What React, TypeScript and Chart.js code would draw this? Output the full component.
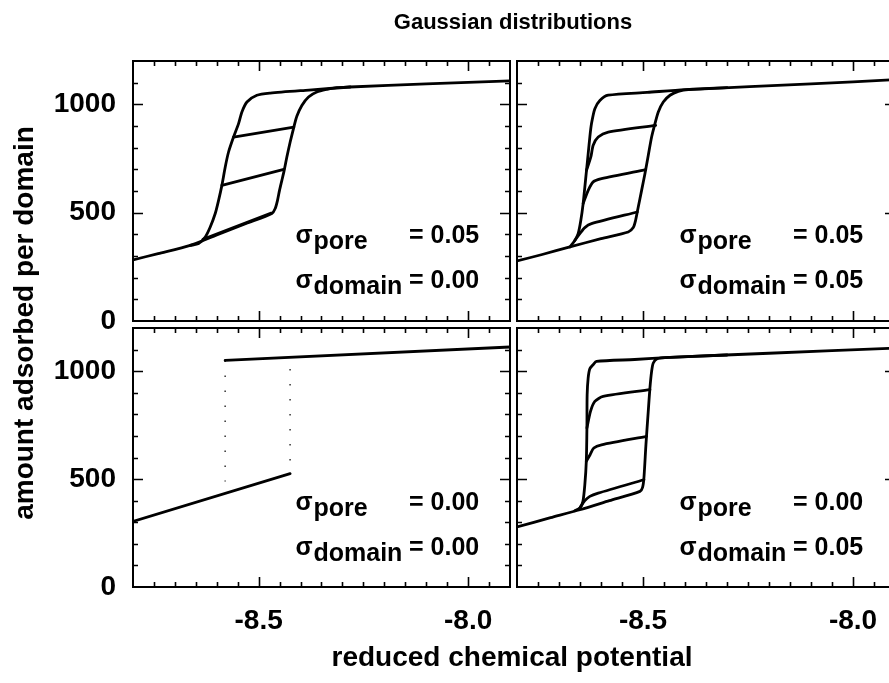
import { useEffect, useRef } from "react";
import { Chart, registerables } from "chart.js";

Chart.register(...registerables);

// ---- axes ----
const X_MIN = -8.8;
const X_MAX = -7.9;
const Y_MIN = 0;
const Y_MAX = 1200;
const X_TICK_LABELS = [-8.5, -8.0];
const Y_TICK_LABELS = [0, 500, 1000];
const X_MINOR_STEP = 0.05;
const Y_MINOR_STEP = 100;

// ---- panel texts ----
const SIGMA_PORE = ["0.05", "0.05", "0.00", "0.00"];
const SIGMA_DOMAIN = ["0.00", "0.05", "0.00", "0.05"];

// ---- panel A: sigma_pore 0.05, sigma_domain 0.00 ----
const aAdsX = [-8.8, -8.74, -8.6633, -8.6, -8.53, -8.4685, -8.4605, -8.455, -8.4502, -8.4446, -8.4391, -8.4327, -8.4248, -8.416, -8.4089, -8.3969, -8.381, -8.3612, -8.3373, -8.3134, -8.2816, -8.1, -7.9];
const aAdsY = [282, 311, 349, 397, 450, 496, 519, 557, 603, 649, 695, 757, 826, 895, 945, 995, 1034, 1057, 1069, 1077, 1080, 1094, 1108];
const aDesX = [-8.2816, -8.38, -8.4725, -8.5043, -8.528, -8.54, -8.548, -8.56, -8.5719, -8.5798, -8.5878, -8.5957, -8.6037, -8.6156, -8.6275, -8.6434, -8.6633];
const aDesY = [1080, 1066, 1052, 1042, 1011, 965, 911, 849, 780, 711, 626, 557, 496, 434, 388, 357, 349];
const aScan1X = [-8.56, -8.416];
const aScan1Y = [849, 895];
const aScan2X = [-8.5878, -8.44];
const aScan2Y = [626, 700];
const aScan3X = [-8.633, -8.47];
const aScan3Y = [377, 498];

// ---- panel B: sigma_pore 0.05, sigma_domain 0.05 ----
const bAdsX = [-8.8, -8.74, -8.674, -8.6, -8.5351, -8.5232, -8.5176, -8.5113, -8.5033, -8.4954, -8.4874, -8.4795, -8.4715, -8.4636, -8.4517, -8.4357, -8.4159, -8.392, -8.1, -7.9];
const bAdsY = [277, 307, 342, 380, 411, 431, 465, 526, 603, 680, 765, 849, 911, 965, 1011, 1042, 1060, 1068, 1094, 1114];
const bDesX = [-8.3, -8.3999, -8.49, -8.5828, -8.6027, -8.6146, -8.6226, -8.6266, -8.6305, -8.6345, -8.6385, -8.6425, -8.648, -8.6544, -8.6623, -8.674];
const bDesY = [1077, 1068, 1055, 1042, 1018, 980, 911, 849, 772, 695, 618, 542, 465, 403, 372, 342];
const bScan1X = [-8.4699, -8.5828, -8.6067, -8.6186, -8.6242, -8.6345];
const bScan1Y = [903, 872, 849, 811, 757, 695];
const bScan2X = [-8.4935, -8.5987, -8.6186, -8.6305, -8.6425];
const bScan2Y = [699, 657, 642, 603, 542];
const bScan3X = [-8.5137, -8.6226, -8.6385, -8.6504, -8.6623];
const bScan3Y = [503, 449, 431, 403, 372];

// ---- panel C: sigma_pore 0.00, sigma_domain 0.00 ----
const cLowX = [-8.8, -8.425];
const cLowY = [304, 525];
const cHighX = [-8.58, -7.9];
const cHighY = [1050, 1112];
const cJumpDownX = [-8.58, -8.58];
const cJumpDownY = [1050, 489];
const cJumpUpX = [-8.425, -8.425];
const cJumpUpY = [1010, 525];

// ---- panel D: sigma_pore 0.00, sigma_domain 0.05 ----
const dAdsX = [-8.8, -8.72, -8.6504, -8.58, -8.5073, -8.501, -8.4978, -8.493, -8.4875, -8.4835, -8.4795, -8.4755, -8.466, -8.4357, -8.2, -7.9];
const dAdsY = [278, 321, 358, 400, 443, 462, 505, 660, 814, 922, 999, 1038, 1058, 1064, 1083, 1107];
const dDesX = [-8.3, -8.4357, -8.52, -8.6107, -8.6187, -8.6266, -8.6306, -8.633, -8.6335, -8.635, -8.6385, -8.643, -8.6504, -8.6624];
const dDesY = [1075, 1064, 1054, 1045, 1030, 1011, 968, 891, 737, 582, 474, 397, 366, 353];
const dScan1X = [-8.4835, -8.5948, -8.6147, -8.625, -8.6335];
const dScan1Y = [914, 883, 860, 814, 737];
const dScan2X = [-8.4915, -8.5988, -8.6171, -8.626, -8.635];
const dScan2Y = [698, 659, 644, 613, 582];
const dScan3X = [-8.4978, -8.6067, -8.6266, -8.6385, -8.6504];
const dScan3Y = [497, 435, 420, 400, 366];

// ---- page geometry ----
const PAGE_W = 889;
const PAGE_H = 683;
const CANVAS_W = 900;
const FONT_FAMILY = '"Liberation Sans", Arial, Helvetica, sans-serif';
const INK = "#000";

type Curve = { xs: number[]; ys: number[]; dotted?: boolean; smooth?: boolean };

type PanelSpec = {
  left: number;
  top: number;
  right: number;
  bottom: number;
  showX: boolean;
  showY: boolean;
  pore: string;
  domain: string;
  curves: Curve[];
};

const PANELS: PanelSpec[] = [
  {
    left: 133, top: 61, right: 510, bottom: 321, showX: false, showY: true,
    pore: SIGMA_PORE[0], domain: SIGMA_DOMAIN[0],
    curves: [
      { xs: aAdsX, ys: aAdsY, smooth: true },
      { xs: aDesX, ys: aDesY, smooth: true },
      { xs: aScan1X, ys: aScan1Y },
      { xs: aScan2X, ys: aScan2Y },
      { xs: aScan3X, ys: aScan3Y },
    ],
  },
  {
    left: 517, top: 61, right: 895, bottom: 321, showX: false, showY: false,
    pore: SIGMA_PORE[1], domain: SIGMA_DOMAIN[1],
    curves: [
      { xs: bAdsX, ys: bAdsY, smooth: true },
      { xs: bDesX, ys: bDesY, smooth: true },
      { xs: bScan1X, ys: bScan1Y, smooth: true },
      { xs: bScan2X, ys: bScan2Y, smooth: true },
      { xs: bScan3X, ys: bScan3Y, smooth: true },
    ],
  },
  {
    left: 133, top: 328, right: 510, bottom: 587, showX: true, showY: true,
    pore: SIGMA_PORE[2], domain: SIGMA_DOMAIN[2],
    curves: [
      { xs: cLowX, ys: cLowY },
      { xs: cHighX, ys: cHighY },
      { xs: cJumpDownX, ys: cJumpDownY, dotted: true },
      { xs: cJumpUpX, ys: cJumpUpY, dotted: true },
    ],
  },
  {
    left: 517, top: 328, right: 895, bottom: 587, showX: true, showY: false,
    pore: SIGMA_PORE[3], domain: SIGMA_DOMAIN[3],
    curves: [
      { xs: dAdsX, ys: dAdsY, smooth: true },
      { xs: dDesX, ys: dDesY, smooth: true },
      { xs: dScan1X, ys: dScan1Y, smooth: true },
      { xs: dScan2X, ys: dScan2Y, smooth: true },
      { xs: dScan3X, ys: dScan3Y, smooth: true },
    ],
  },
];

// Frame with inward ticks on all four sides, plus the sigma labels.
const panelDecor = {
  id: "panelDecor",
  afterDraw(chart: any, _args: any, opts: any) {
    const { ctx, chartArea } = chart;
    const { left, top, right, bottom } = chartArea;
    const xs = chart.scales.x;
    const ys = chart.scales.y;
    ctx.save();
    ctx.strokeStyle = INK;
    ctx.lineWidth = 1.6;
    ctx.lineCap = "butt";
    ctx.beginPath();
    const nx = Math.round((X_MAX - X_MIN) / X_MINOR_STEP);
    for (let i = 1; i < nx; i++) {
      const v = X_MIN + i * X_MINOR_STEP;
      const major = Math.abs(v * 2 - Math.round(v * 2)) < 1e-6;
      const len = major ? 10 : 5;
      const px = Math.round(xs.getPixelForValue(v)) + 0.5;
      ctx.moveTo(px, bottom);
      ctx.lineTo(px, bottom - len);
      ctx.moveTo(px, top);
      ctx.lineTo(px, top + len);
    }
    const ny = Math.round((Y_MAX - Y_MIN) / Y_MINOR_STEP);
    for (let i = 1; i < ny; i++) {
      const v = Y_MIN + i * Y_MINOR_STEP;
      const major = v % 500 === 0;
      const len = major ? 10 : 5;
      const py = Math.round(ys.getPixelForValue(v)) + 0.5;
      ctx.moveTo(left, py);
      ctx.lineTo(left + len, py);
      ctx.moveTo(right, py);
      ctx.lineTo(right - len, py);
    }
    ctx.stroke();
    ctx.lineWidth = 2;
    ctx.strokeRect(left, top, right - left, bottom - top);

    ctx.fillStyle = INK;
    ctx.font = `bold 25px ${FONT_FAMILY}`;
    ctx.textBaseline = "alphabetic";
    ctx.textAlign = "left";
    const rows = [
      { sub: "pore", val: opts.pore, base: top + 182 },
      { sub: "domain", val: opts.domain, base: top + 226.5 },
    ];
    for (const r of rows) {
      ctx.fillText("\u03c3", left + 162.5, r.base);
      ctx.fillText(r.sub, left + 180.5, r.base + 6);
      ctx.fillText("= " + r.val, left + 276, r.base);
    }
    ctx.restore();
  },
};

function Panel({ spec }: { spec: PanelSpec }) {
  const ref = useRef<HTMLCanvasElement | null>(null);

  useEffect(() => {
    const canvas = ref.current;
    if (!canvas) return;
    const tickFont = { family: FONT_FAMILY, size: 28, weight: "bold" as const };
    const datasets = spec.curves.map((c) => ({
      data: c.xs.map((x, i) => ({ x, y: c.ys[i] })),
      showLine: true,
      borderColor: c.dotted ? "#333" : INK,
      borderWidth: c.dotted ? 1.5 : 2.8,
      borderDash: c.dotted ? [1.5, 13.5] : [],
      borderJoinStyle: "round" as const,
      borderCapStyle: c.dotted ? ("butt" as const) : ("round" as const),
      tension: c.smooth ? 0.25 : 0,
      pointRadius: 0,
      fill: false,
    }));

    const chart = new Chart(canvas, {
      type: "scatter",
      data: { datasets },
      plugins: [panelDecor],
      options: {
        animation: false,
        responsive: false,
        maintainAspectRatio: false,
        devicePixelRatio: 1,
        events: [],
        layout: {
          padding: {
            left: spec.showY ? 0 : spec.left,
            top: spec.top,
            right: CANVAS_W - spec.right,
            bottom: spec.showX ? 0 : PAGE_H - spec.bottom,
          },
        },
        plugins: {
          legend: { display: false },
          tooltip: { enabled: false },
          title: { display: false },
          panelDecor: { pore: spec.pore, domain: spec.domain },
        } as any,
        scales: {
          x: {
            type: "linear",
            min: X_MIN,
            max: X_MAX,
            display: spec.showX,
            grid: { display: false, drawTicks: false },
            border: { display: false },
            ticks: {
              font: tickFont,
              color: INK,
              padding: 17,
              maxRotation: 0,
              autoSkip: false,
              callback: (v: any) => Number(v).toFixed(1),
            },
            afterBuildTicks: (s: any) => {
              s.ticks = X_TICK_LABELS.map((value) => ({ value }));
            },
            ...(spec.showX
              ? { afterFit: (s: any) => { s.height = PAGE_H - spec.bottom; } }
              : {}),
          },
          y: {
            type: "linear",
            min: Y_MIN,
            max: Y_MAX,
            display: spec.showY,
            grid: { display: false, drawTicks: false },
            border: { display: false },
            ticks: {
              font: tickFont,
              color: INK,
              padding: 17,
              autoSkip: false,
              callback: (v: any) => String(v),
            },
            afterBuildTicks: (s: any) => {
              s.ticks = Y_TICK_LABELS.map((value) => ({ value }));
            },
            ...(spec.showY
              ? { afterFit: (s: any) => { s.width = spec.left; } }
              : {}),
          },
        },
      } as any,
    });
    return () => chart.destroy();
  }, [spec]);

  return (
    <canvas
      ref={ref}
      width={CANVAS_W}
      height={PAGE_H}
      style={{ position: "absolute", left: 0, top: 0, width: CANVAS_W, height: PAGE_H }}
    />
  );
}

export default function App() {
  const textBase: React.CSSProperties = {
    position: "absolute",
    fontFamily: FONT_FAMILY,
    fontWeight: "bold",
    color: INK,
    textAlign: "center",
    whiteSpace: "nowrap",
  };
  return (
    <div
      style={{
        position: "absolute",
        left: 0,
        top: 0,
        width: PAGE_W,
        height: PAGE_H,
        overflow: "hidden",
        background: "#fff",
      }}
    >
      {PANELS.map((p, i) => (
        <Panel key={i} spec={p} />
      ))}
      <div style={{ ...textBase, left: 213, top: 11, width: 600, fontSize: 22, lineHeight: "22px" }}>
        Gaussian distributions
      </div>
      <div style={{ ...textBase, left: 212, top: 643.3, width: 600, fontSize: 28, lineHeight: "28px" }}>
        reduced chemical potential
      </div>
      <div
        style={{
          ...textBase,
          left: 24 - 250,
          top: 323 - 14,
          width: 500,
          height: 28,
          fontSize: 28,
          lineHeight: "28px",
          transform: "rotate(-90deg)",
        }}
      >
        amount adsorbed per domain
      </div>
    </div>
  );
}
